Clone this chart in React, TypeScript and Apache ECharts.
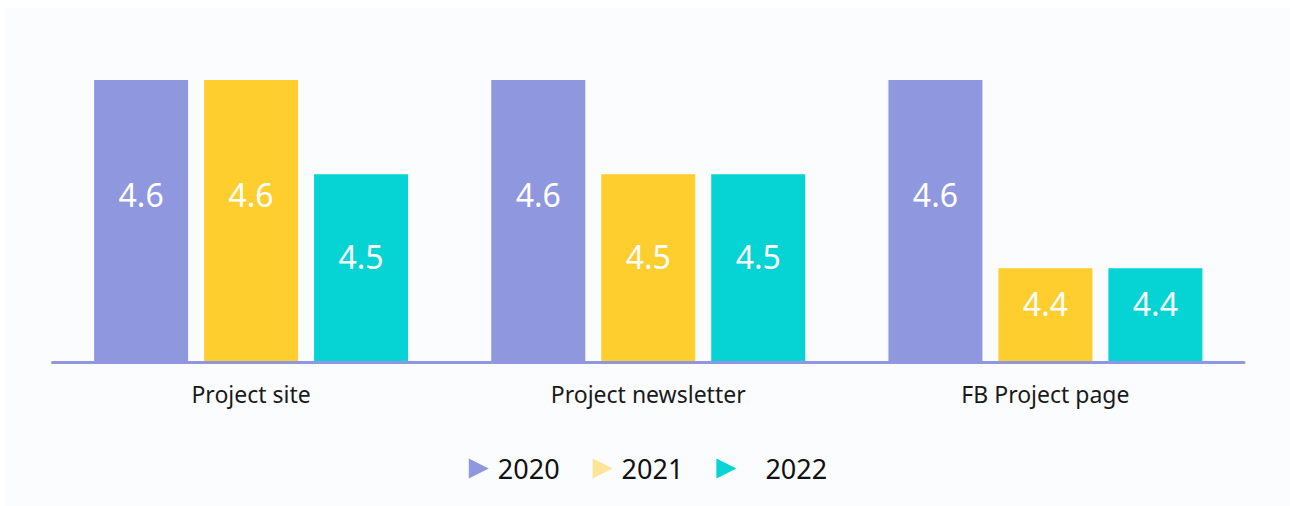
import React, { useEffect, useRef } from "react";
import * as echarts from "echarts";

const categories = ["Project site", "Project newsletter", "FB Project page"];
const seriesNames = ["2020", "2021", "2022"];
const values2020 = [4.6, 4.6, 4.6];
const values2021 = [4.6, 4.5, 4.4];
const values2022 = [4.5, 4.5, 4.4];
const colors = ["#8f97df", "#fecd2e", "#06d3d3"];

const Y_MIN = 4.3;
const Y_MAX = 4.6;

export default function App() {
  const ref = useRef<HTMLDivElement>(null);
  useEffect(() => {
    if (!ref.current) return;
    const chart = echarts.init(ref.current, undefined, { renderer: "svg" });
    const all = [values2020, values2021, values2022];
    const series = all.map((vals, i) => ({
      name: seriesNames[i],
      type: "bar",
      barWidth: 94,
      barGap: "17%",
      z: 1,
      itemStyle: { color: colors[i] },
      data: vals.map((v) => ({
        value: v,
        label: { offset: [0, v >= Y_MAX ? -27 : -12] },
      })),
      label: {
        show: true,
        position: "inside",
        color: "#ffffff",
        fontSize: 32,
        fontFamily: "Noto Sans",
        formatter: (p: any) => p.value.toFixed(1),
      },
    }));
    chart.setOption({
      animation: false,
      backgroundColor: "#fbfcfe",
      grid: { left: 46.5, right: 46, top: 72, bottom: 143.5 },
      xAxis: {
        type: "category",
        data: categories,
        axisLine: { show: true, lineStyle: { color: "#9097e0", width: 3 } },
        axisTick: { show: false },
        axisLabel: {
          color: "#1a1a1a",
          fontSize: 23,
          fontFamily: "Noto Sans",
          margin: 20,
        },
        z: 3,
      },
      yAxis: {
        type: "value",
        min: Y_MIN,
        max: Y_MAX,
        show: false,
        splitLine: { show: false },
      },
      legend: {
        bottom: 19,
        left: "center",
        icon: "path://M0,0 L10,5 L0,10 Z",
        itemWidth: 20,
        itemHeight: 21,
        itemGap: 33,
        textStyle: {
          fontSize: 27,
          color: "#111",
          fontFamily: "Noto Sans",
          padding: [0, 0, 0, 4],
        },
        data: [
          { name: "2020" },
          { name: "2021", itemStyle: { opacity: 0.5 } },
          { name: "2022", textStyle: { padding: [0, 0, 0, 24] } },
        ],
      },
      series,
    });
    return () => chart.dispose();
  }, []);
  return (
    <div
      ref={ref}
      style={{ position: "absolute", left: 6, top: 8, width: 1284, height: 498 }}
    />
  );
}
